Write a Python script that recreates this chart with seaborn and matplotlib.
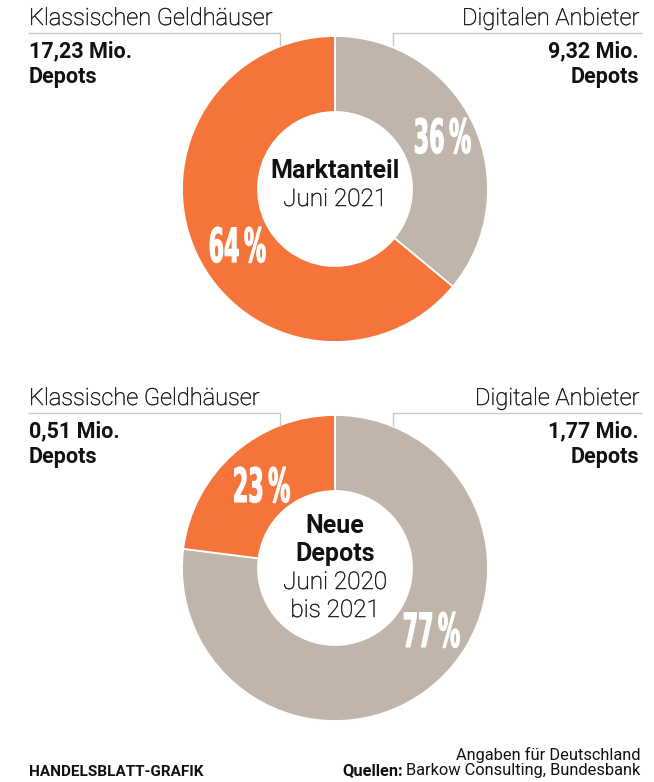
import matplotlib
matplotlib.use("Agg")
import matplotlib.pyplot as plt
import seaborn as sns
from matplotlib.patheffects import AbstractPathEffect
from matplotlib.transforms import Affine2D

# --- data -------------------------------------------------------------
market_labels = ["Digitalen Anbieter", "Klassischen Geldhäuser"]
market_share = [36, 64]
market_depots = ["9,32", "17,23"]

new_labels = ["Digitale Anbieter", "Klassische Geldhäuser"]
new_share = [77, 23]
new_depots = ["1,77", "0,51"]

center_market = ["Marktanteil", "Juni 2021"]
center_new = ["Neue", "Depots", "Juni 2020", "bis 2021"]

# --- style ------------------------------------------------------------
sns.set_theme(style="white")
plt.rcParams["font.family"] = ["Roboto", "DejaVu Sans"]

GREY, ORANGE = "#BFB5AB", "#F5743A"
palette = sns.color_palette([GREY, ORANGE])
RULE = "#C8C8C8"
INK = "#111111"
LIGHT = "light"

W, H = 654, 782
fig = plt.figure(figsize=(W / 100, H / 100), dpi=100)
ax = fig.add_axes([0, 0, 1, 1])
ax.set_xlim(0, W)
ax.set_ylim(0, H)
ax.set_aspect("equal")
ax.axis("off")


def Y(py):
    """Convert a top-down pixel row to the axis' upward y coordinate."""
    return H - py


class Narrow(AbstractPathEffect):
    """Squeeze glyph outlines horizontally to get a condensed display face."""

    def __init__(self, sx=0.47, stroke=0.8):
        super().__init__()
        self.sx = sx
        self.stroke = stroke

    def draw_path(self, renderer, gc, tpath, affine, rgbFace=None):
        ext = tpath.get_extents()
        cx = 0.5 * (ext.x0 + ext.x1)
        squeeze = Affine2D().translate(-cx, 0).scale(self.sx, 1).translate(cx, 0)
        gc0 = renderer.new_gc()
        gc0.copy_properties(gc)
        if self.stroke:
            gc0.set_linewidth(self.stroke)
            gc0.set_foreground(rgbFace)
        renderer.draw_path(gc0, tpath, squeeze + affine, rgbFace)
        gc0.restore()


class Ink(AbstractPathEffect):
    """Fill glyphs and add a hairline outline so light type reads darker."""

    def __init__(self, lw=0.35):
        super().__init__()
        self.lw = lw

    def draw_path(self, renderer, gc, tpath, affine, rgbFace=None):
        gc0 = renderer.new_gc()
        gc0.copy_properties(gc)
        gc0.set_linewidth(self.lw)
        gc0.set_foreground(rgbFace)
        renderer.draw_path(gc0, tpath, affine, rgbFace)
        gc0.restore()


R_OUT, R_IN = 153, 77


def donut(cy, shares, labels, depots, pct_pos, center_lines, center_bold, dy):
    ax.pie(shares, colors=palette, startangle=90, counterclock=False,
           center=(335, Y(cy)), radius=R_OUT, frame=True,
           wedgeprops=dict(width=R_OUT - R_IN, edgecolor="white", linewidth=1.3))

    # percentage labels on the ring
    for v, (px, py) in zip(shares, pct_pos):
        ax.text(px, Y(py), f"{v}\u2009%", ha="center", va="baseline",
                fontsize=34, color="white", fontweight="bold",
                family="DejaVu Sans", path_effects=[Narrow()])

    # centre caption
    base = {2: 178, 4: 533}[len(center_lines)]
    for i, line in enumerate(center_lines):
        bold = i < center_bold
        ax.text(335, Y(base + i * 28), line, ha="center", va="baseline",
                fontsize=18 if bold else 17.5, color=INK,
                fontweight="bold" if bold else LIGHT,
                path_effects=None if bold else [Ink()])

    # side labels with rule and tick
    lab_right, lab_left = labels
    dep_right, dep_left = depots
    ax.text(29, Y(25 + dy), lab_left, ha="left", va="baseline",
            fontsize=17, fontweight=LIGHT, color=INK, path_effects=[Ink()])
    ax.text(639, Y(25 + dy), lab_right, ha="right", va="baseline",
            fontsize=17, fontweight=LIGHT, color=INK, path_effects=[Ink()])
    for x, ha, dep in ((29, "left", dep_left), (639, "right", dep_right)):
        ax.text(x, Y(57 + dy), f"{dep} Mio.", ha=ha, va="baseline",
                fontsize=15.5, fontweight="bold", color=INK)
        ax.text(x, Y(83 + dy), "Depots", ha=ha, va="baseline",
                fontsize=15.5, fontweight="bold", color=INK)
    ax.plot([28, 280, 280], [Y(33 + dy), Y(33 + dy), Y(46 + dy)],
            color=RULE, lw=1.0, solid_capstyle="butt")
    ax.plot([393, 393, 642], [Y(46 + dy), Y(33 + dy), Y(33 + dy)],
            color=RULE, lw=1.0, solid_capstyle="butt")


donut(189, market_share, market_labels, market_depots,
      [(442, 153), (237, 262)], center_market, 1, 0)
donut(568, new_share, new_labels, new_depots,
      [(431, 647), (261, 502)], center_new, 2, 380)

ax.set_xlim(0, W)
ax.set_ylim(0, H)

# footer
ax.text(29, Y(776), "HANDELSBLATT-GRAFIK", ha="left", va="baseline",
        fontsize=11, fontweight="bold", color=INK)
ax.text(640, Y(760), "Angaben für Deutschland", ha="right", va="baseline",
        fontsize=11.8, color=INK)
src = ax.text(640, Y(775), "Barkow Consulting, Bundesbank", ha="right",
              va="baseline", fontsize=11.8, color=INK)
renderer = fig.canvas.get_renderer()
bb = src.get_window_extent(renderer)
ax.text(bb.x0 - 3, Y(775), "Quellen:", ha="right", va="baseline",
        fontsize=11.8, fontweight="bold", color=INK, transform=None)

fig.savefig("out.png", dpi=100, facecolor="white")
